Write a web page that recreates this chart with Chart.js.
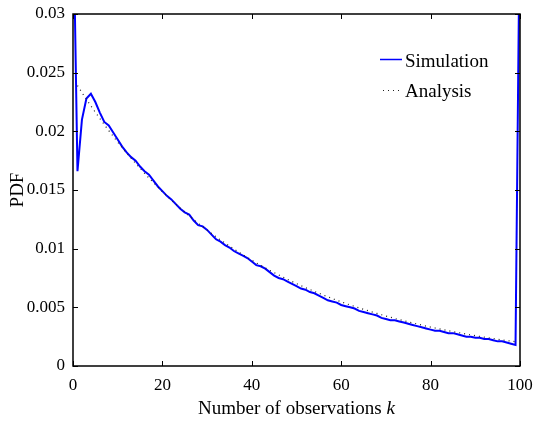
<!DOCTYPE html>
<html>
<head>
<meta charset="utf-8">
<script src="https://cdn.jsdelivr.net/npm/chart.js@4.4.0/dist/chart.umd.min.js"></script>
<style>
  html, body { margin: 0; padding: 0; background: #fff; }
  #wrap { width: 535px; height: 428px; position: relative; }
</style>
</head>
<body>
<div id="wrap"><canvas id="pdfChart"></canvas></div>
<script>
// values
const simulation = [
  0.040, 0.0166, 0.0210, 0.0228, 0.0232, 0.0225, 0.0216, 0.0208, 0.0205, 0.0199,
  0.0193, 0.0187, 0.0182, 0.0178, 0.0175, 0.0170, 0.0166, 0.0163, 0.0158, 0.0153,
  0.0149, 0.0145, 0.0142, 0.0138, 0.0134, 0.0131, 0.0129, 0.0124, 0.0120, 0.0119,
  0.0116, 0.0112, 0.0108, 0.0106, 0.0103, 0.0101, 0.0098, 0.0096, 0.0094, 0.0092,
  0.0089, 0.0086, 0.0085, 0.0083, 0.0080, 0.0077, 0.0075, 0.0074, 0.0072, 0.0070,
  0.0068, 0.0066, 0.0065, 0.0063, 0.0062, 0.0060, 0.0058, 0.0056, 0.0055, 0.0054,
  0.0052, 0.0051, 0.0050, 0.0049, 0.0047, 0.0046, 0.0045, 0.0044, 0.0043, 0.0041,
  0.0040, 0.0039, 0.0039, 0.0038, 0.0037, 0.0036, 0.0035, 0.0034, 0.0033, 0.0032,
  0.0031, 0.0030, 0.0030, 0.0029, 0.0028, 0.0028, 0.0027, 0.0026, 0.0025, 0.0025,
  0.0024, 0.0024, 0.0023, 0.0023, 0.0022, 0.0021, 0.0021, 0.0020, 0.0019, 0.0018,
  0.040
];
// analysis curve, k = 1..99
const analysis = [
  0.02390, 0.02331, 0.02273, 0.02217, 0.02163, 0.02109, 0.02057, 0.02006, 0.01957, 0.01908,
  0.01861, 0.01815, 0.01771, 0.01727, 0.01684, 0.01643, 0.01602, 0.01563, 0.01524, 0.01486,
  0.01450, 0.01414, 0.01379, 0.01345, 0.01312, 0.01279, 0.01248, 0.01217, 0.01187, 0.01158,
  0.01129, 0.01101, 0.01074, 0.01048, 0.01022, 0.00997, 0.00972, 0.00948, 0.00925, 0.00902,
  0.00879, 0.00858, 0.00836, 0.00816, 0.00796, 0.00776, 0.00757, 0.00738, 0.00720, 0.00702,
  0.00685, 0.00668, 0.00652, 0.00635, 0.00620, 0.00604, 0.00590, 0.00575, 0.00561, 0.00547,
  0.00533, 0.00520, 0.00508, 0.00495, 0.00483, 0.00471, 0.00459, 0.00448, 0.00437, 0.00426,
  0.00416, 0.00405, 0.00395, 0.00386, 0.00376, 0.00367, 0.00358, 0.00349, 0.00340, 0.00332,
  0.00324, 0.00316, 0.00308, 0.00300, 0.00293, 0.00286, 0.00279, 0.00272, 0.00265, 0.00259,
  0.00252, 0.00246, 0.00240, 0.00234, 0.00228, 0.00223, 0.00217, 0.00212, 0.00207
];
const simStartK = 0;
const anaStartK = 1;
const xTicks = [0, 20, 40, 60, 80, 100];
const yTicks = [0, 0.005, 0.01, 0.015, 0.02, 0.025, 0.03];
const yTickLabels = ["0", "0.005", "0.01", "0.015", "0.02", "0.025", "0.03"];
const seriesNames = ["Simulation", "Analysis"];

const SERIF = '"Liberation Serif", "Times New Roman", serif';

const simPoints = simulation.map((v, i) => ({ x: simStartK + i, y: v }));
const anaPoints = analysis.map((v, i) => ({ x: anaStartK + i, y: v }));

// box with inward ticks on all four sides, like the original figure
const framePlugin = {
  id: "frame",
  afterDatasetsDraw(chart) {
    const { ctx, chartArea: a, scales } = chart;
    ctx.save();
    ctx.strokeStyle = "#000";
    ctx.lineWidth = 1.5;
    ctx.strokeRect(a.left, a.top, a.right - a.left, a.bottom - a.top);
    ctx.lineWidth = 1;
    const len = 5;
    ctx.beginPath();
    xTicks.forEach(v => {
      const px = Math.round(scales.x.getPixelForValue(v)) + 0.5;
      ctx.moveTo(px, a.bottom); ctx.lineTo(px, a.bottom - len);
      ctx.moveTo(px, a.top); ctx.lineTo(px, a.top + len);
    });
    yTicks.forEach(v => {
      const py = Math.round(scales.y.getPixelForValue(v)) + 0.5;
      ctx.moveTo(a.left, py); ctx.lineTo(a.left + len, py);
      ctx.moveTo(a.right, py); ctx.lineTo(a.right - len, py);
    });
    ctx.stroke();
    ctx.restore();
  },
  afterDraw(chart) {
    const { ctx, chartArea: a } = chart;
    ctx.save();
    ctx.fillStyle = "#000";
    // x axis title with italic k
    ctx.textBaseline = "alphabetic";
    const part1 = "Number of observations ";
    ctx.font = "19px " + SERIF;
    const w1 = ctx.measureText(part1).width;
    ctx.font = "italic 19px " + SERIF;
    const w2 = ctx.measureText("k").width;
    let x0 = (a.left + a.right) / 2 - (w1 + w2) / 2;
    ctx.font = "19px " + SERIF;
    ctx.fillText(part1, x0, 414);
    ctx.font = "italic 19px " + SERIF;
    ctx.fillText("k", x0 + w1, 414);

    // legend
    const lx = 380, lx2 = 402;
    ctx.strokeStyle = "#0000ff";
    ctx.lineWidth = 1.5;
    ctx.beginPath(); ctx.moveTo(lx, 59.5); ctx.lineTo(lx2, 59.5); ctx.stroke();
    ctx.strokeStyle = "#222";
    ctx.lineWidth = 1;
    ctx.setLineDash([1, 4]);
    ctx.beginPath(); ctx.moveTo(lx + 3, 90.5); ctx.lineTo(lx2, 90.5); ctx.stroke();
    ctx.setLineDash([]);
    ctx.font = "19px " + SERIF;
    ctx.fillText(seriesNames[0], 405, 67);
    ctx.fillText(seriesNames[1], 405, 97);
    ctx.restore();
  }
};

new Chart(document.getElementById("pdfChart"), {
  type: "line",
  data: {
    datasets: [
      {
        label: seriesNames[1],
        data: anaPoints,
        borderColor: "#222",
        borderWidth: 1.2,
        borderDash: [1, 4],
        pointRadius: 0,
        tension: 0,
        clip: 0
      },
      {
        label: seriesNames[0],
        data: simPoints,
        borderColor: "#0000ff",
        borderWidth: 2,
        pointRadius: 0,
        tension: 0,
        clip: 0
      }
    ]
  },
  options: {
    responsive: true,
    maintainAspectRatio: false,
    animation: false,
    devicePixelRatio: 1,
    layout: { padding: { top: 14, right: 15, left: 0, bottom: 0 } },
    plugins: {
      legend: { display: false },
      tooltip: { enabled: false }
    },
    scales: {
      x: {
        type: "linear",
        min: 0,
        max: 100,
        grid: { display: false },
        border: { display: false },
        afterBuildTicks: s => { s.ticks = xTicks.map(v => ({ value: v })); },
        afterFit: s => { s.height = 62; s.paddingLeft = 0; s.paddingRight = 0; },
        ticks: {
          color: "#000",
          font: { family: SERIF, size: 17 },
          padding: 1,
          maxRotation: 0,
          autoSkip: false
        }
      },
      y: {
        min: 0,
        max: 0.03,
        grid: { display: false },
        border: { display: false },
        afterBuildTicks: s => { s.ticks = yTicks.map(v => ({ value: v })); },
        afterFit: s => { s.width = 73; s.paddingTop = 0; s.paddingBottom = 0; },
        ticks: {
          color: "#000",
          font: { family: SERIF, size: 17 },
          padding: 0,
          autoSkip: false,
          callback: (v, i) => yTickLabels[i]
        },
        title: {
          display: true,
          text: "PDF",
          color: "#000",
          font: { family: SERIF, size: 19 },
          padding: { top: 7, bottom: 0 }
        }
      }
    }
  },
  plugins: [framePlugin]
});
</script>
</body>
</html>
